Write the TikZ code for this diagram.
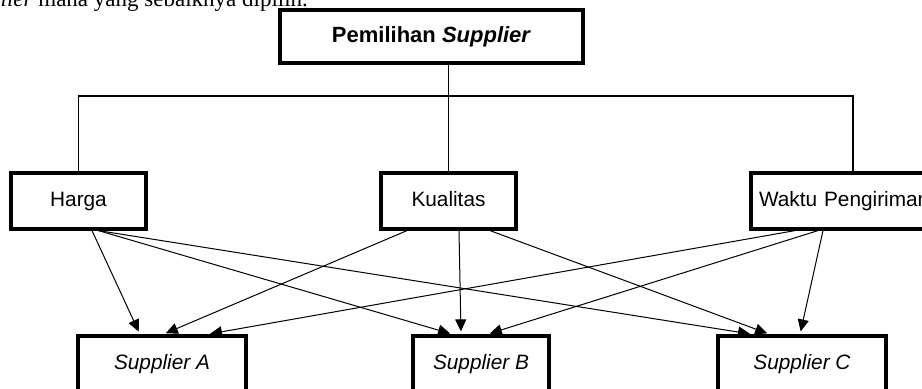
\documentclass[tikz,border=0pt]{standalone}
\usepackage{fontspec}
\setmainfont{Liberation Sans}
\newfontfamily\serifcap{Liberation Serif}
\usetikzlibrary{arrows.meta}

\begin{document}
\begin{tikzpicture}[
  x=0.5pt,y=-0.5pt,
  font=\fontsize{10.4}{12}\selectfont,
  >={Triangle[length=6pt,width=5.5pt]},
  box/.style={draw,line width=1.6pt,minimum height=28pt,inner sep=0pt,
    text height=7.6pt,text depth=2pt},
  link/.style={line width=0.65pt},
  arr/.style={->,line width=0.5pt,shorten >=1.5pt},
]
\useasboundingbox (0,0) rectangle (922,389);
\node[anchor=base east,font=\serifcap\fontsize{11.5}{14}\selectfont] (caption) at (315,7) {\textit{Supplier} mana yang sebaiknya dipilih.};
\node[box,line width=1.7pt,minimum width=151.5pt,minimum height=26.5pt,font=\fontsize{11}{13}\selectfont] (top) at (431.5,36.5) {\textbf{Pemilihan \textit{Supplier}}};
\node[box,minimum width=67.5pt] (harga) at (78.5,201) {Harga};
\node[box,minimum width=67.5pt] (kual) at (448.5,201) {Kualitas};
\node[box,inner xsep=4pt,text width=94pt,align=left] (waktu) at (853,201) {Waktu Pengiriman};
\node[box,minimum width=84pt] (supA) at (162,364) {\textit{Supplier A}};
\node[box,minimum width=68pt] (supB) at (481,364) {\textit{Supplier B}};
\node[box,minimum width=84pt] (supC) at (802,364) {\textit{Supplier C}};
% tree
\coordinate (bar) at (448.5,96);
\draw[link] (top.south -| kual.north) -- (kual.north);
\draw[link] (harga.north) |- (bar) -| (waktu.north);
% criteria to suppliers
\draw[arr] ([xshift=6.75pt]harga.south) -- ([xshift=-11pt]supA.north);
\draw[arr] ([xshift=10pt]harga.south) -- ([xshift=-14pt]supB.north);
\draw[arr] ([xshift=10pt]harga.south) -- ([xshift=-24.5pt]supC.north);
\draw[arr] ([xshift=-20.75pt]kual.south) -- ([xshift=0.5pt]supA.north);
\draw[arr] ([xshift=5.25pt]kual.south) -- ([xshift=-10pt]supB.north);
\draw[arr] ([xshift=20.75pt]kual.south) -- ([xshift=-16pt]supC.north);
\draw[arr] ([xshift=-29pt]waktu.south) -- ([xshift=22.5pt]supA.north);
\draw[arr] ([xshift=-17.5pt]waktu.south) -- ([xshift=3pt]supB.north);
\draw[arr] ([xshift=-15pt]waktu.south) -- ([xshift=-1pt]supC.north);
\end{tikzpicture}
\end{document}
